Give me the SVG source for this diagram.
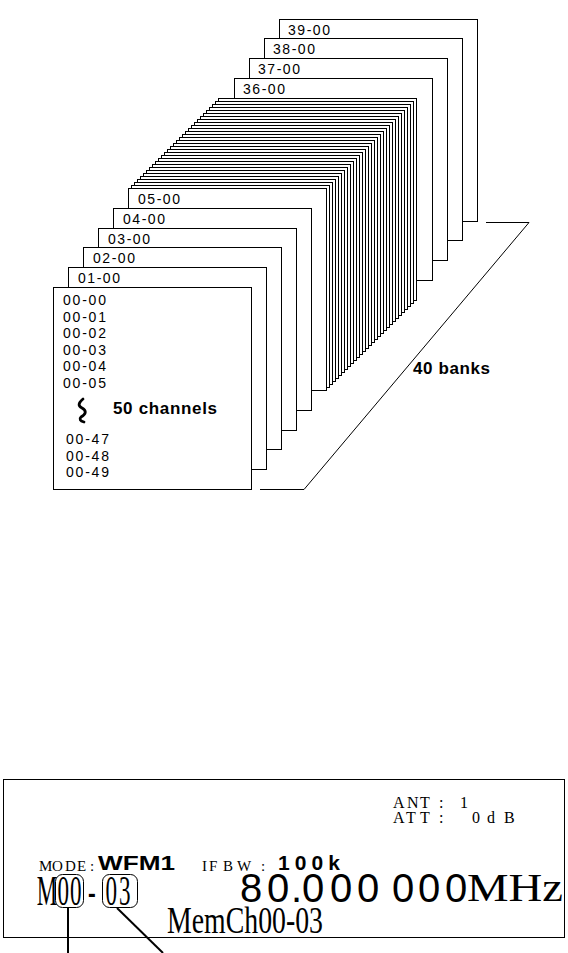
<svg xmlns="http://www.w3.org/2000/svg" xmlns:xlink="http://www.w3.org/1999/xlink" width="568" height="953" viewBox="0 0 568 953">
<style>
.card{fill:#fff;stroke:#000;stroke-width:1}
.lbl{font-family:"Liberation Sans",Arial,sans-serif;font-size:14px;fill:#000}
.bold{font-family:"Liberation Sans",Arial,sans-serif;font-weight:bold;fill:#000}
.serif{font-family:"Liberation Serif","Times New Roman",serif;fill:#000}
.big{font-family:"Liberation Sans",Arial,sans-serif;fill:#000}
.ln{fill:none;stroke:#000}
</style>
<defs>
<rect id="c" class="card" width="198" height="202"/>
</defs>
<rect width="568" height="953" fill="#fff"/>
<g id="banks">
<g id="bank-39"><use href="#c" x="279.5" y="19.5"/><text class="lbl" x="288" y="35" textLength="42" lengthAdjust="spacing">39-00</text></g>
<g id="bank-38"><use href="#c" x="264.5" y="38.5"/><text class="lbl" x="273" y="54" textLength="42" lengthAdjust="spacing">38-00</text></g>
<g id="bank-37"><use href="#c" x="249.5" y="58.5"/><text class="lbl" x="258" y="74" textLength="42" lengthAdjust="spacing">37-00</text></g>
<g id="bank-36"><use href="#c" x="234.5" y="78.5"/><text class="lbl" x="243" y="94" textLength="42" lengthAdjust="spacing">36-00</text></g>
<g id="bank-35"><use href="#c" x="218.5" y="98.5"/></g>
<g id="bank-34"><use href="#c" x="215.5" y="101.5"/></g>
<g id="bank-33"><use href="#c" x="212.5" y="104.5"/></g>
<g id="bank-32"><use href="#c" x="209.5" y="107.5"/></g>
<g id="bank-31"><use href="#c" x="206.5" y="110.5"/></g>
<g id="bank-30"><use href="#c" x="203.5" y="113.5"/></g>
<g id="bank-29"><use href="#c" x="200.5" y="116.5"/></g>
<g id="bank-28"><use href="#c" x="197.5" y="119.5"/></g>
<g id="bank-27"><use href="#c" x="194.5" y="122.5"/></g>
<g id="bank-26"><use href="#c" x="191.5" y="125.5"/></g>
<g id="bank-25"><use href="#c" x="188.5" y="128.5"/></g>
<g id="bank-24"><use href="#c" x="185.5" y="131.5"/></g>
<g id="bank-23"><use href="#c" x="182.5" y="134.5"/></g>
<g id="bank-22"><use href="#c" x="179.5" y="137.5"/></g>
<g id="bank-21"><use href="#c" x="176.5" y="140.5"/></g>
<g id="bank-20"><use href="#c" x="173.5" y="143.5"/></g>
<g id="bank-19"><use href="#c" x="170.5" y="146.5"/></g>
<g id="bank-18"><use href="#c" x="167.5" y="149.5"/></g>
<g id="bank-17"><use href="#c" x="164.5" y="152.5"/></g>
<g id="bank-16"><use href="#c" x="161.5" y="155.5"/></g>
<g id="bank-15"><use href="#c" x="158.5" y="158.5"/></g>
<g id="bank-14"><use href="#c" x="155.5" y="161.5"/></g>
<g id="bank-13"><use href="#c" x="152.5" y="164.5"/></g>
<g id="bank-12"><use href="#c" x="149.5" y="167.5"/></g>
<g id="bank-11"><use href="#c" x="146.5" y="170.5"/></g>
<g id="bank-10"><use href="#c" x="143.5" y="173.5"/></g>
<g id="bank-09"><use href="#c" x="140.5" y="176.5"/></g>
<g id="bank-08"><use href="#c" x="137.5" y="179.5"/></g>
<g id="bank-07"><use href="#c" x="134.5" y="182.5"/></g>
<g id="bank-06"><use href="#c" x="131.5" y="185.5"/></g>
<g id="bank-05"><use href="#c" x="128.5" y="188.5"/><text class="lbl" x="138" y="204" textLength="42" lengthAdjust="spacing">05-00</text></g>
<g id="bank-04"><use href="#c" x="113.5" y="208.5"/><text class="lbl" x="123" y="224" textLength="42" lengthAdjust="spacing">04-00</text></g>
<g id="bank-03"><use href="#c" x="98.5" y="228.5"/><text class="lbl" x="108" y="244" textLength="42" lengthAdjust="spacing">03-00</text></g>
<g id="bank-02"><use href="#c" x="83.5" y="247.5"/><text class="lbl" x="93" y="263" textLength="42" lengthAdjust="spacing">02-00</text></g>
<g id="bank-01"><use href="#c" x="68.5" y="267.5"/><text class="lbl" x="78" y="283" textLength="42" lengthAdjust="spacing">01-00</text></g>
<g id="bank-00"><use href="#c" x="53.5" y="287.5"/>
<text class="lbl" x="63" y="305" textLength="43" lengthAdjust="spacing">00-00</text>
<text class="lbl" x="63" y="321.5" textLength="43" lengthAdjust="spacing">00-01</text>
<text class="lbl" x="63" y="338" textLength="43" lengthAdjust="spacing">00-02</text>
<text class="lbl" x="63" y="354.5" textLength="43" lengthAdjust="spacing">00-03</text>
<text class="lbl" x="63" y="371" textLength="43" lengthAdjust="spacing">00-04</text>
<text class="lbl" x="63" y="387.5" textLength="43" lengthAdjust="spacing">00-05</text>
<path d="M83,399 C78,403 78,406 82,408 C87,411 86,414 81,417 C79,419 80,421 84,422" fill="none" stroke="#000" stroke-width="2.8" stroke-linecap="round"/>
<text class="bold" x="113" y="414" font-size="17" textLength="104" lengthAdjust="spacing">50 channels</text>
<text class="lbl" x="66" y="444" textLength="43" lengthAdjust="spacing">00-47</text>
<text class="lbl" x="66" y="460.5" textLength="43" lengthAdjust="spacing">00-48</text>
<text class="lbl" x="66" y="477" textLength="43" lengthAdjust="spacing">00-49</text>
</g>
</g>
<g id="floor">
<path class="ln" d="M486,222.5 H529 L304,489.5 H260" stroke="#333"/>
<text class="bold" x="413" y="374" font-size="17" textLength="77" lengthAdjust="spacing">40 banks</text>
</g>
<g id="display">
<rect x="3.5" y="779.5" width="561" height="158" fill="none" stroke="#000"/>
<text class="serif" font-size="16" x="393 407 420 432 439 445 460" y="808">ANT : 1</text>
<text class="serif" font-size="16" x="393 406 420 432 439 445 472 487 504" y="823">ATT : 0dB</text>
<text class="serif" font-size="15" x="39 52 65 77 90" y="871">MODE:</text>
<text class="bold" x="98" y="870" font-size="20" textLength="77" lengthAdjust="spacingAndGlyphs">WFM1</text>
<text class="serif" font-size="15" x="202 209 223 237 261" y="871">IFBW:</text>
<text class="bold" x="278" y="870" font-size="21" textLength="62" lengthAdjust="spacing">100k</text>
<text class="serif" font-size="42" transform="translate(0,905) scale(0.55,1)" x="67 104.5 127.3 160 191.8 216.4" y="0">M00-03</text>
<text class="big" font-size="40" x="240 267 291 302 330 357 380 392 418 445" y="902">80.000 000</text>
<text class="serif" font-size="40" x="467" y="901" textLength="96" lengthAdjust="spacingAndGlyphs">MHz</text>
<text class="serif" font-size="37" x="167" y="933" textLength="156" lengthAdjust="spacingAndGlyphs">MemCh00-03</text>
<rect id="bank-oval" x="55.5" y="874.5" width="28" height="33" rx="7" fill="none" stroke="#000"/>
<rect id="ch-oval" x="102.5" y="874.5" width="35" height="33" rx="7" fill="none" stroke="#000"/>
</g>
<g id="connectors">
<line x1="68" y1="907" x2="68" y2="953" stroke="#000" stroke-width="2"/>
<line x1="117" y1="908" x2="163" y2="953" stroke="#000" stroke-width="2"/>
</g>
</svg>
